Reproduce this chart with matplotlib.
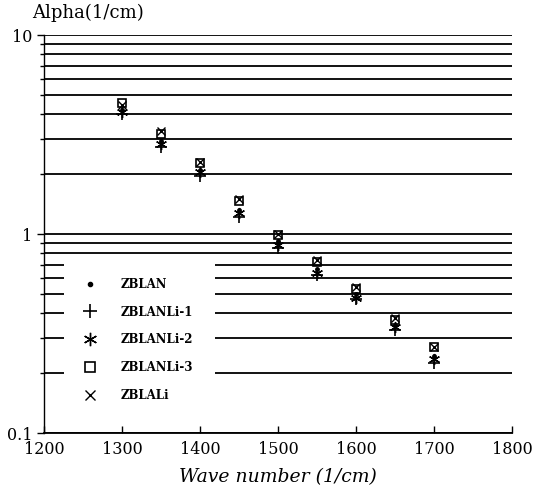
import matplotlib.pyplot as plt
from matplotlib.patches import Rectangle
from matplotlib.ticker import FixedLocator, NullFormatter

# wave numbers (1/cm)
wave = [1300, 1350, 1400, 1450, 1500, 1550, 1600, 1650, 1700]

# absorption coefficient Alpha (1/cm)
zblan = [4.2, 2.95, 2.1, 1.32, 0.92, 0.67, 0.50, 0.35, 0.245]
zblanli_1 = [4.0, 2.75, 1.97, 1.22, 0.85, 0.62, 0.47, 0.33, 0.225]
zblanli_2 = [4.1, 2.85, 2.05, 1.28, 0.88, 0.64, 0.48, 0.34, 0.235]
zblanli_3 = [4.55, 3.2, 2.27, 1.47, 0.99, 0.72, 0.53, 0.37, 0.27]
zblali = [4.45, 3.3, 2.3, 1.5, 1.0, 0.74, 0.54, 0.38, 0.27]

labels = ["ZBLAN", "ZBLANLi-1", "ZBLANLi-2", "ZBLANLi-3", "ZBLALi"]
x_ticks = [1200, 1300, 1400, 1500, 1600, 1700, 1800]

plt.rcParams["font.family"] = ["DejaVu Serif"]

fig = plt.figure(figsize=(5.34, 4.96), dpi=100)
ax = fig.add_axes([0.0824, 0.127, 0.877, 0.802])

ax.plot(wave, zblan, ".", color="black", ms=5, label=labels[0])
ax.plot(wave, zblanli_1, "+", color="black", ms=8, mew=1.2, label=labels[1])
ax.plot(wave, zblanli_2, marker=(6, 2, 0), ls="none", color="black", ms=8, mew=1.0,
        label=labels[2])
ax.plot(wave, zblanli_3, "s", color="black", ms=6, mfc="none", mew=1.2, label=labels[3])
ax.plot(wave, zblali, "x", color="black", ms=6, mew=1.0, label=labels[4])

ax.set_yscale("log")
ax.set_ylim(0.1, 10)
ax.set_xlim(1200, 1800)
ax.set_xticks(x_ticks)
ax.set_yticks([0.1, 1, 10])
ax.set_yticklabels(["0.1", "1", "10"])
minor = [m * d for d in (0.1, 1) for m in range(2, 10)]
ax.yaxis.set_minor_locator(FixedLocator(minor))
ax.yaxis.set_minor_formatter(NullFormatter())

# horizontal grid on every decade step
ax.grid(True, axis="y", which="both", color="black", lw=1.3)
ax.set_axisbelow(True)

for side in ("top", "right"):
    ax.spines[side].set_visible(False)
ax.spines["left"].set_linewidth(1.0)
ax.spines["bottom"].set_linewidth(1.3)
ax.tick_params(axis="both", which="both", labelsize=11.5, width=1.0)
ax.tick_params(axis="y", which="major", direction="out", length=5)
ax.tick_params(axis="y", which="minor", direction="out", length=3)
ax.tick_params(axis="x", direction="in", length=5, pad=6)

ax.set_xlabel("Wave number (1/cm)", fontsize=13.5, style="italic", labelpad=7)
fig.text(0.06, 0.955, "Alpha(1/cm)", fontsize=13, ha="left", va="bottom")

# white patch behind the legend, cutting the grid lines
ax.add_patch(Rectangle((0.043, 0.06), 0.322, 0.38, transform=ax.transAxes,
                       facecolor="white", edgecolor="none", zorder=1.5))

leg = ax.legend(loc="upper left", bbox_to_anchor=(0.07, 0.39), borderaxespad=0,
                borderpad=0, frameon=False, fontsize=8.5, labelspacing=1.25,
                handlelength=2.2, handletextpad=1.5, markerscale=1.2)
for t in leg.get_texts():
    t.set_fontweight("bold")

plt.savefig("out.png", dpi=100)
